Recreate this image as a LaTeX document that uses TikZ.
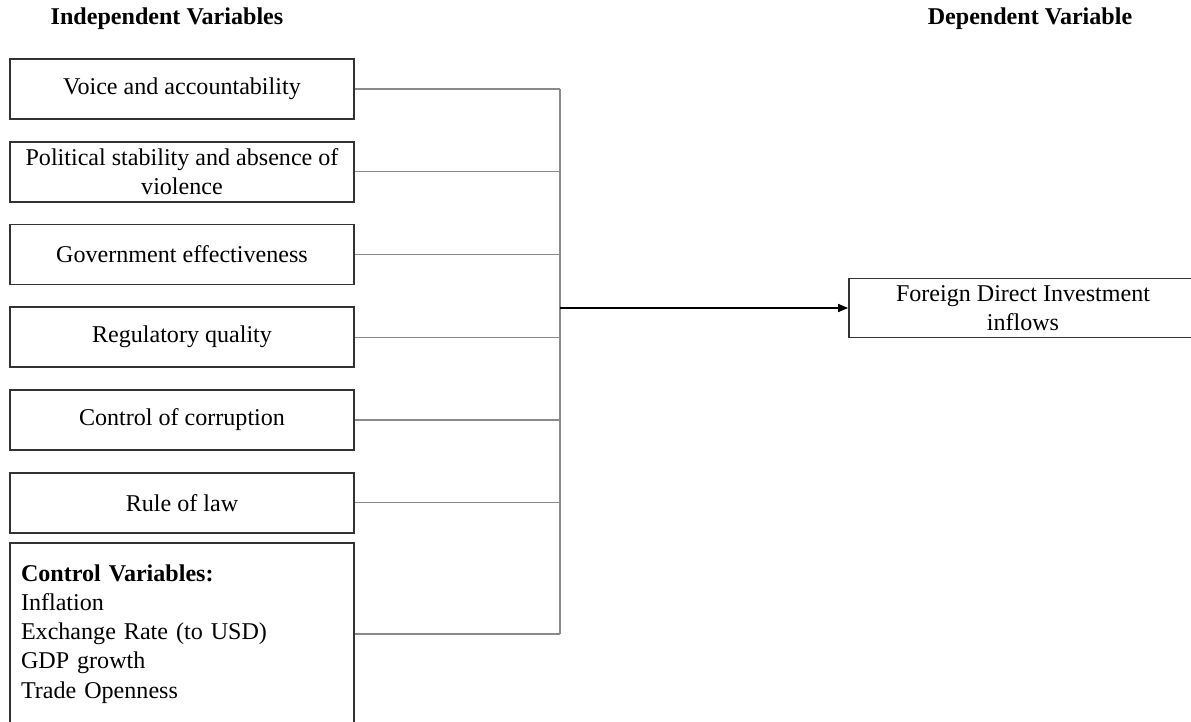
\documentclass[tikz,border=0pt]{standalone}
\usepackage{fontspec}
\setmainfont{Liberation Serif}
\usetikzlibrary{arrows.meta,positioning}
\definecolor{boxline}{HTML}{333333}
\definecolor{linkgray}{HTML}{8A8A8A}

\begin{document}
\begin{tikzpicture}[
  x=0.02cm, y=-0.02cm,
  every node/.style={font=\fontsize{13.7}{16.6}\selectfont},
  varbox/.style={draw=boxline, line width=1pt, minimum width=6.88cm, minimum height=1.2cm, align=center, inner sep=2pt},
  header/.style={font=\fontsize{13.7}{16.6}\selectfont\bfseries},
  link/.style={draw=linkgray, line width=0.8pt},
  arr/.style={-{Triangle[length=0.2cm,width=0.16cm]}, line width=0.9pt, black}
]
  \useasboundingbox (0,0) rectangle (1191,721);

  \node[header] (indep) at (167,19) {Independent Variables};
  \node[header] (dep) at (1030,19) {Dependent Variable};

  \node[varbox] (voice) at (182,89) {Voice and accountability};
  \node[varbox, below=0.42cm of voice] (polstab) {Political stability and absence of\\violence};
  \node[varbox, below=0.42cm of polstab] (goveff) {Government effectiveness};
  \node[varbox, below=0.42cm of goveff] (regqual) {Regulatory quality};
  \node[varbox, below=0.42cm of regqual] (corrupt) {Control of corruption};
  \node[varbox, below=0.42cm of corrupt] (rulelaw) {Rule of law};
  \node[varbox, below=0.17cm of rulelaw, minimum height=3.64cm, align=left, text width=6.44cm, inner xsep=0.22cm] (ctrl)
    {\textbf{Control Variables:}\\Inflation\\Exchange Rate (to USD)\\GDP growth\\Trade Openness};

  \node[varbox, minimum width=6.96cm, minimum height=1.18cm] (fdi) at (1023,308) {Foreign Direct Investment\\inflows};

  \coordinate (joint) at (fdi.west -| 560,0);

  \foreach \v in {voice,polstab,goveff,regqual,corrupt,rulelaw,ctrl}
    \draw[link] (\v.east) -- (\v.east -| joint);
  \draw[link] (voice.east -| joint) -- (ctrl.east -| joint);
  \draw[arr] (joint) -- (fdi.west);
\end{tikzpicture}
\end{document}
